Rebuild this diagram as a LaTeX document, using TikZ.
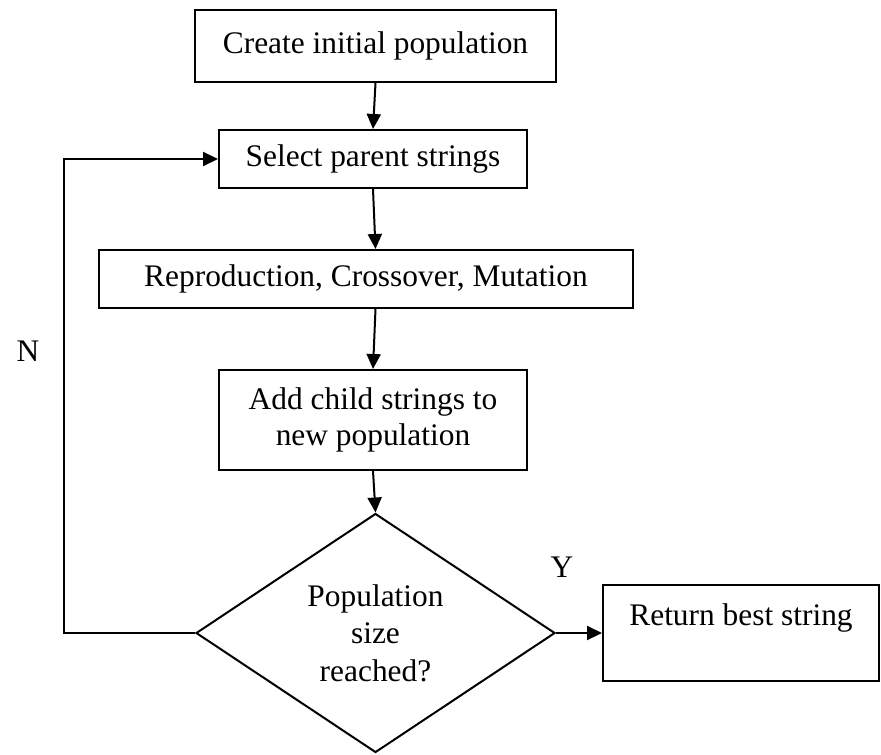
\documentclass[tikz,border=0pt]{standalone}
\usepackage{fontspec}
\setmainfont{Liberation Serif}
\usetikzlibrary{shapes.geometric,arrows.meta}
\begin{document}
\begin{tikzpicture}[x=0.5pt,y=-0.5pt,line width=1pt,
        font=\fontsize{15.7}{18}\selectfont,
        box/.style={draw,rectangle,inner sep=0pt,align=center},
        decision/.style={draw,diamond,inner sep=0pt,align=center,minimum width=179.5pt,minimum height=119.5pt,
            font=\fontsize{15.7}{18.8}\selectfont},
        arr/.style={-{Triangle[length=7.5pt,width=7pt]}}]
            \useasboundingbox (0,0) rectangle (881,754);
            \node [box,minimum width=180.5pt,minimum height=36pt] (init) at (375.5,46) {Create initial population};
            \node [box,minimum width=154pt,minimum height=29pt] (select) at (373,159) {Select parent strings};
            \node [box,minimum width=267pt,minimum height=29pt] (reprod) at (366,279) {Reproduction, Crossover, Mutation};
            \node [box,minimum width=154pt,minimum height=50pt] (add) at (373,420) {Add child strings to\\new population};
            \node [decision] (check) at (375.5,633) {Population\\size\\reached?};
            \node [box,minimum width=138pt,minimum height=48pt] (best) at (741,633) {Return best string\\ \mbox{}};
            \node (no) at (28,351) {N};
            \node (yes) at (562,567) {Y};
            \coordinate (back) at (64,159);
            \draw [arr] (init.south) -- (select.north);
            \draw [arr] (select.south) -- (reprod.north -| init.south);
            \draw [arr] (reprod.south -| init.south) -- (add.north);
            \draw [arr] (add.south) -- (check.north);
            \draw [arr] (check.east) -- (best.west);
            \draw [arr] (check.west) -| (back) -- (select.west);
        \end{tikzpicture}
\end{document}
